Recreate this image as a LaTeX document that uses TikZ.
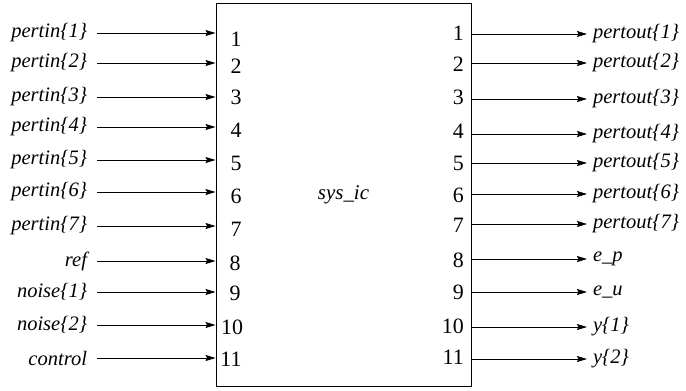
\documentclass[tikz,border=0pt]{standalone}
\usepackage{fontspec}
\setmainfont{Liberation Serif}[ItalicFont={Liberation Serif Italic}]
\usetikzlibrary{arrows.meta}
\begin{document}
\begin{tikzpicture}[x=1bp,y=-1bp,
  lblL/.style={anchor=east,inner xsep=10bp,inner ysep=0pt,outer sep=0pt,font=\fontsize{20.6}{24}\selectfont\itshape},
  lblR/.style={anchor=west,inner xsep=6bp,inner ysep=0pt,outer sep=0pt,font=\fontsize{20.6}{24}\selectfont\itshape},
  numL/.style={inner sep=0pt,font=\fontsize{22}{26}\selectfont},
  numR/.style={anchor=east,inner sep=0pt,font=\fontsize{22}{26}\selectfont},
  sig/.style={line width=0.9bp,-{Stealth[length=10bp,width=6bp,inset=1.5bp]}},
  blk/.style={draw,line width=0.9bp,minimum width=255bp,minimum height=383bp,inner sep=0pt,font=\fontsize{21}{25}\selectfont\itshape}]
\useasboundingbox (0,0) rectangle (686,390);
\node[blk] (box) at (343.5,194.5) {sys\_ic};
% left inputs
\node[lblL] (i1) at (97,33) {pertin\{1\}};
\node[lblL] (i2) at (97,63) {pertin\{2\}};
\node[lblL] (i3) at (97,97) {pertin\{3\}};
\node[lblL] (i4) at (97,127) {pertin\{4\}};
\node[lblL] (i5) at (97,160) {pertin\{5\}};
\node[lblL] (i6) at (97,192) {pertin\{6\}};
\node[lblL] (i7) at (97,226) {pertin\{7\}};
\node[lblL] (i8) at (97,261) {ref};
\node[lblL] (i9) at (97,292) {noise\{1\}};
\node[lblL] (i10) at (97,325) {noise\{2\}};
\node[lblL] (i11) at (97,358) {control};
\foreach \k in {1,...,11}{\draw[sig] (i\k.east) -- (i\k.east -| box.west);}
% left port numbers
\node[numL] (n1) at (236,39) {1};
\node[numL] (n2) at (236,66) {2};
\node[numL] (n3) at (236,97) {3};
\node[numL] (n4) at (236,130) {4};
\node[numL] (n5) at (236,163) {5};
\node[numL] (n6) at (236,196) {6};
\node[numL] (n7) at (236,229) {7};
\node[numL] (n8) at (235,263) {8};
\node[numL] (n9) at (235,293) {9};
\node[numL] (n10) at (232,327) {10};
\node[numL] (n11) at (231,359) {11};
% right outputs
\node[lblR] (o1) at (587,34) {pertout\{1\}};
\node[lblR] (o2) at (587,63) {pertout\{2\}};
\node[lblR] (o3) at (587,99) {pertout\{3\}};
\node[lblR] (o4) at (587,134) {pertout\{4\}};
\node[lblR] (o5) at (587,163) {pertout\{5\}};
\node[lblR] (o6) at (587,194) {pertout\{6\}};
\node[lblR] (o7) at (587,224) {pertout\{7\}};
\node[lblR] (o8) at (587,259) {e\_p};
\node[lblR] (o9) at (587,292) {e\_u};
\node[lblR] (o10) at (587,327) {y\{1\}};
\node[lblR] (o11) at (587,359) {y\{2\}};
\foreach \k in {1,...,11}{\draw[sig] (o\k.west -| box.east) -- (o\k.west);}
% right port numbers
\node[numR] (m1) at (464,33) {1};
\node[numR] (m2) at (464,64) {2};
\node[numR] (m3) at (464,97) {3};
\node[numR] (m4) at (464,131) {4};
\node[numR] (m5) at (464,163) {5};
\node[numR] (m6) at (464,195) {6};
\node[numR] (m7) at (464,225) {7};
\node[numR] (m8) at (464,260) {8};
\node[numR] (m9) at (464,292) {9};
\node[numR] (m10) at (464,326) {10};
\node[numR] (m11) at (464,357) {11};
\end{tikzpicture}
\end{document}
